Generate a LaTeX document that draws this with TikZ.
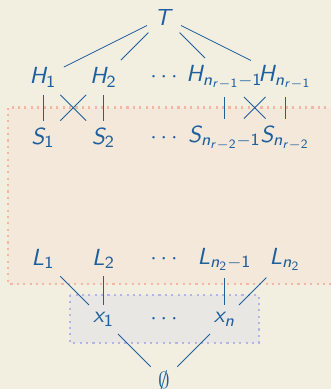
\documentclass[tikz,border=0pt]{standalone}
\usetikzlibrary{positioning}

% sans serif math, slanted letters
\DeclareMathVersion{sans}
\SetSymbolFont{operators}{sans}{OT1}{cmss}{m}{n}
\SetSymbolFont{letters}{sans}{OT1}{cmss}{m}{sl}
\SetSymbolFont{symbols}{sans}{OMS}{cmsy}{m}{n}
\SetSymbolFont{largesymbols}{sans}{OMX}{cmex}{m}{n}

\definecolor{pagebg}{RGB}{242,239,224}
\definecolor{ink}{RGB}{30,95,158}
\definecolor{zonefill}{RGB}{243,232,218}
\definecolor{zoneline}{RGB}{245,181,165}
\definecolor{leaffill}{RGB}{233,231,227}
\definecolor{leafline}{RGB}{181,181,229}

\begin{document}
\mathversion{sans}
\begin{tikzpicture}[
    node distance=1cm,
    on grid,
    every node/.style={font=\fontsize{10.95}{13.6}\selectfont,text=ink},
    lvl/.style={draw=none},
    link/.style={draw=ink,thin},
    zone/.style={fill=zonefill,draw=zoneline,line width=1pt,dotted},
    leafzone/.style={fill=leaffill,draw=leafline,line width=1pt,dotted}
]

% Page
\path[use as bounding box] (-2.711,0.281) rectangle (2.760,-6.149);
\clip (-2.711,0.281) rectangle (2.760,-6.149);
\fill[pagebg] (-2.711,0.281) rectangle (2.760,-6.149);

% Shaded regions
\path[zone]     (-2.574,-1.496) rectangle (3.2,-4.413);
\path[leafzone] (-1.554,-4.595) rectangle (1.570,-5.383);

% Top
\node[lvl] (T) at (0,0) {$T$};

% Row H
\node[lvl,below left=1cm and 1cm of T] (H2) {$H_2$};
\node[lvl,left =of H2] (H1) {$H_1$};
\node[lvl,right=of H2] (Hd) {$\cdots$};
\node[lvl,right=of Hd] (Hk) {$H_{n_{r-1}-1}$};
\node[lvl,right=of Hk] (Hn) {$H_{n_{r-1}}$};

\draw[link] (T) -- (H1);
\draw[link] (T) -- (H2);
\draw[link] (T) -- (Hk);
\draw[link] (T) -- (Hn);

% Row S
\node[lvl,below=of H1] (S1) {$S_1$};
\node[lvl,below=of H2] (S2) {$S_2$};
\node[lvl,below=of Hd] (Sd) {$\cdots$};
\node[lvl,below=of Hk] (Sk) {$S_{n_{r-2}-1}$};
\node[lvl,below=of Hn] (Sn) {$S_{n_{r-2}}$};

\draw[link] (H1) -- (S1);
\draw[link] (H1) -- (S2);
\draw[link] (H2) -- (S1);
\draw[link] (H2) -- (S2);
\draw[link] (Hk) -- (Sk);
\draw[link] (Hk) -- (Sn);
\draw[link] (Hn) -- (Sk);
\draw[link] (Hn) -- (Sn);

% Row L
\node[lvl,below=2cm of S1] (L1) {$L_1$};
\node[lvl,below=2cm of S2] (L2) {$L_2$};
\node[lvl,below=2cm of Sd] (Ld) {$\cdots$};
\node[lvl,below=2cm of Sk] (Lk) {$L_{n_2-1}$};
\node[lvl,below=2cm of Sn] (Ln) {$L_{n_2}$};

% Atoms
\node[lvl,below=of L2] (x1) {$x_1$};
\node[lvl,below=of Ld] (xd) {$\cdots$};
\node[lvl,below=of Lk] (xn) {$x_n$};

\draw[link] (L1) -- (x1);
\draw[link] (L2) -- (x1);
\draw[link] (Lk) -- (xn);
\draw[link] (Ln) -- (xn);

% Bottom
\node[lvl,below=of xd] (E) {$\emptyset$};

\draw[link] (x1) -- (E);
\draw[link] (xn) -- (E);

\end{tikzpicture}
\end{document}
